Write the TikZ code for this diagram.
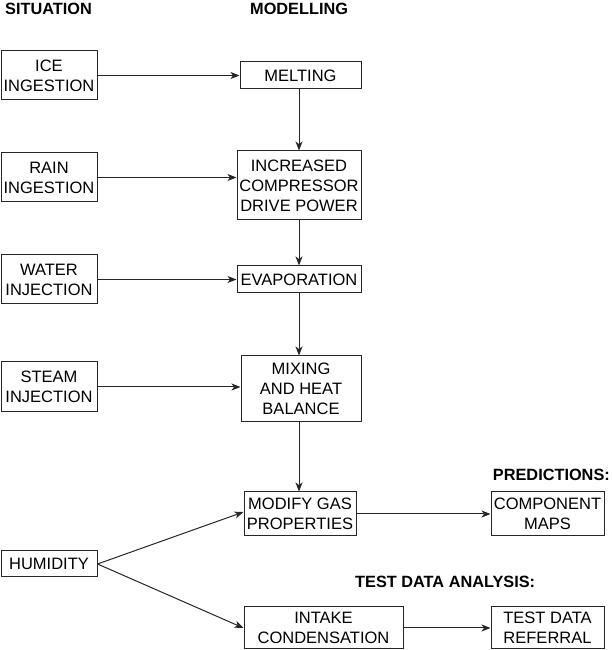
\documentclass[tikz,border=0pt]{standalone}
\usepackage{fontspec}
\setmainfont{Liberation Sans}
\usetikzlibrary{arrows.meta}
\begin{document}
\begin{tikzpicture}[x=1pt,y=1pt,
  box/.style={draw=black!85, line width=1pt, inner sep=0pt, align=center,
    font=\fontsize{16.5}{20}\selectfont},
  head/.style={inner sep=0pt, font=\fontsize{16.3}{20}\selectfont\bfseries},
  arr/.style={draw=black!85, line width=1pt, -{Stealth[length=9pt,width=7pt,inset=2.5pt]}}]
\useasboundingbox (0,0) rectangle (611,650);
% headers
\node[head, anchor=base west] (hsit) at (5,635) {SITUATION};
\node[head, anchor=base west] (hmod) at (250,635) {MODELLING};
\node[head, anchor=base east] (hpred) at (610,169) {PREDICTIONS:};
\node[head, anchor=base west] (htest) at (355,62) {TEST DATA ANALYSIS:};
% situation column
\node[box, minimum width=96pt, minimum height=49pt] (ice) at (49,574.5) {ICE\\INGESTION};
\node[box, minimum width=96pt, minimum height=49pt] (rain) at (49,472.5) {RAIN\\INGESTION};
\node[box, minimum width=96pt, minimum height=49pt] (water) at (49,370.5) {WATER\\INJECTION};
\node[box, minimum width=96pt, minimum height=50pt] (steam) at (49,263) {STEAM\\INJECTION};
\node[box, minimum width=96pt, minimum height=26pt] (hum) at (49,86) {HUMIDITY};
% modelling column
\node[box, minimum width=121pt, minimum height=27pt] (melt) at (300.5,574.5) {MELTING};
\node[box, minimum width=124pt, minimum height=69pt] (comp) at (299,464.5) {INCREASED\\COMPRESSOR\\DRIVE POWER};
\node[box, minimum width=124pt, minimum height=27pt] (evap) at (299,370.5) {EVAPORATION};
\node[box, minimum width=120pt, minimum height=66pt] (mix) at (301,261) {MIXING\\AND HEAT\\BALANCE};
\node[box, minimum width=112pt, minimum height=44pt] (mod) at (300,136) {MODIFY GAS\\PROPERTIES};
\node[box, minimum width=159pt, minimum height=42pt] (intake) at (323.5,22) {INTAKE\\CONDENSATION};
\node[box, minimum width=113pt, minimum height=44pt] (cmap) at (547.5,136) {COMPONENT\\MAPS};
\node[box, minimum width=113pt, minimum height=42pt] (ref) at (547.5,22) {TEST DATA\\REFERRAL};
% horizontal arrows
\draw[arr] (ice.east) -- (ice.east -| melt.west);
\draw[arr] (rain.east) -- (rain.east -| comp.west);
\draw[arr] (water.east) -- (water.east -| evap.west);
\draw[arr] (steam.east) -- (steam.east -| mix.west);
\draw[arr] (mod.east) -- (cmap.west);
\draw[arr] (intake.east) -- (ref.west);
% vertical arrows
\draw[arr] (melt.south -| comp.north) -- (comp.north);
\draw[arr] (comp.south) -- (evap.north);
\draw[arr] (evap.south) -- (evap.south |- mix.north);
\draw[arr] (mix.south -| evap.south) -- (evap.south |- mod.north);
% humidity
\draw[arr] (hum.east) -- ([yshift=2pt]mod.west);
\draw[arr] (hum.east) -- (intake.west);
\end{tikzpicture}
\end{document}
